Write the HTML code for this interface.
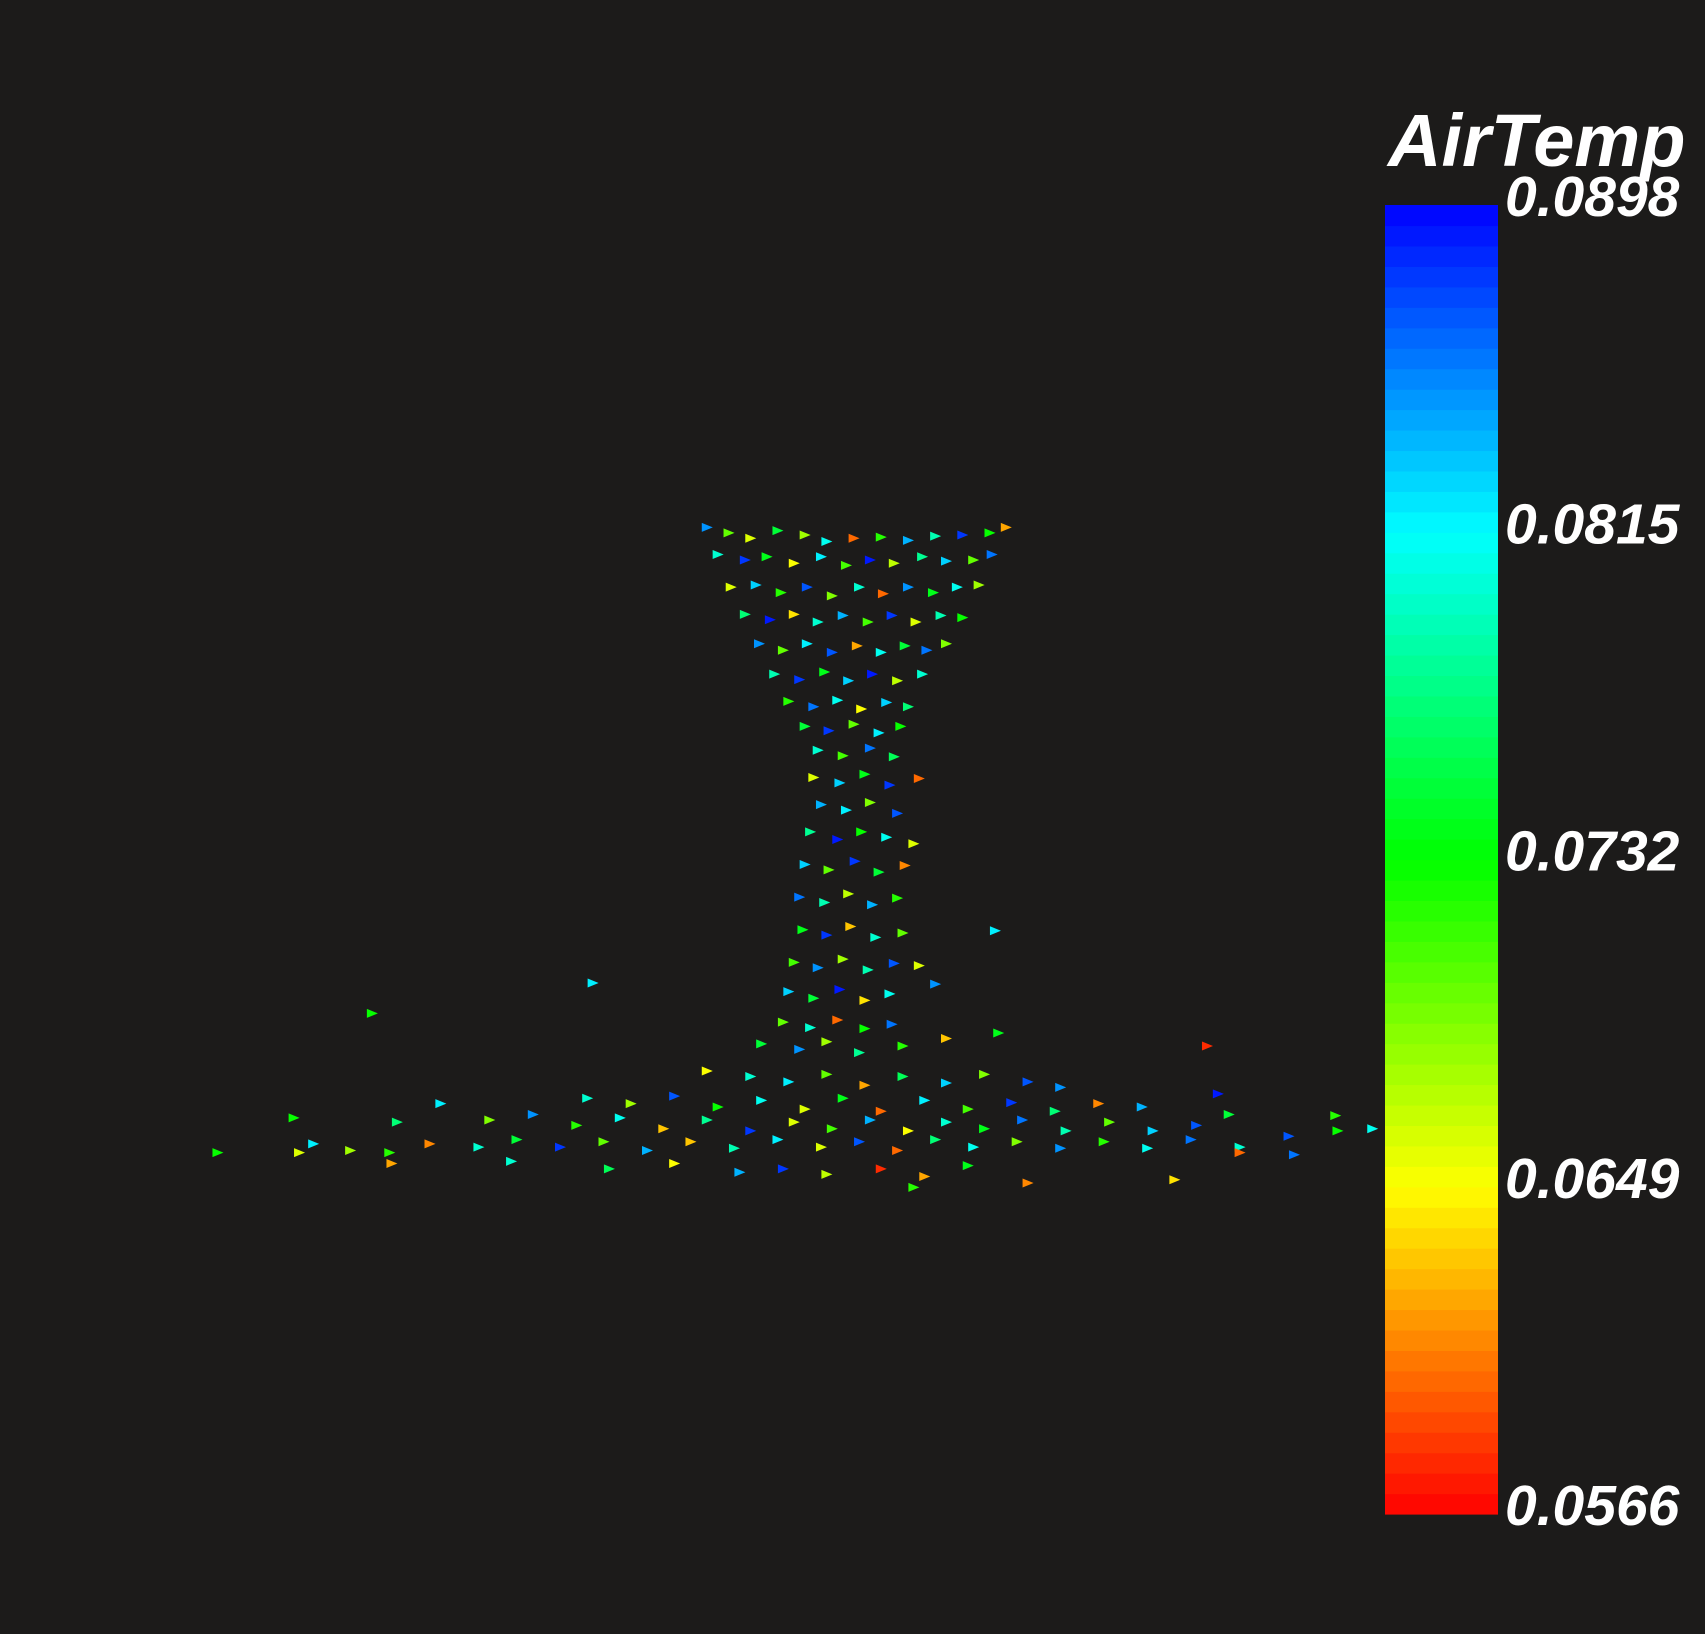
<!DOCTYPE html>
<html>
<head>
<meta charset="utf-8">
<style>
  html, body { margin: 0; padding: 0; background: #1c1b1a; }
  body { width: 1705px; height: 1634px; overflow: hidden; }
  svg { display: block; }
  text { font-family: "Liberation Sans", sans-serif; font-style: italic; font-weight: bold; fill: #ffffff; }
</style>
</head>
<body>
<svg id="chart" width="1705" height="1634" viewBox="0 0 1705 1634" xmlns="http://www.w3.org/2000/svg">
  <rect x="0" y="0" width="1705" height="1634" fill="#1c1b1a"/>
  <g id="particles"></g>
  <g id="colorbar">
    <text x="1388" y="166" font-size="74">AirTemp</text>
  </g>
</svg>
<script>
// Particle data (x, y in reference layout units; value = AirTemp)
const px = [650,670,690,715,740,760,785,810,835,860,885,910,925,
660,685,705,730,755,778,800,822,848,870,895,912,
672,695,718,742,765,790,812,835,858,880,900,
685,708,730,752,775,798,820,842,865,885,
698,720,742,765,788,810,832,852,870,
712,735,758,780,802,825,848,
725,748,770,792,815,835,
740,762,785,808,828,
752,775,800,822,
748,772,795,818,845,
755,778,800,825,
745,770,792,815,840,
740,762,786,808,832,
735,758,780,802,825,
738,760,782,805,830,915,
730,752,775,798,822,845,
725,748,772,795,818,860,545,
720,745,770,795,820,
700,735,760,790,830,870,918,1110,342,
650,690,725,760,795,830,870,905,945,975,
540,580,620,660,700,740,775,810,850,890,930,970,1010,1050,1120,
270,365,405,450,490,530,570,610,650,690,730,765,800,835,870,905,940,980,1020,1060,1100,1130,1228,
200,288,322,358,395,440,475,515,555,595,635,675,715,755,790,825,860,895,935,975,1015,1055,1095,1140,1185,1230,1262,
275,360,470,560,620,680,720,760,810,850,890,945,1080,1140,1190,840];
const py = [485,490,495,488,492,498,495,494,497,493,492,490,485,
510,515,512,518,512,520,515,518,512,516,515,510,
540,538,545,540,548,540,546,540,545,540,538,
565,570,565,572,566,572,566,572,566,568,
592,598,592,600,594,600,594,598,592,
620,625,618,626,620,626,620,
645,650,644,652,646,650,
668,672,666,674,668,
690,695,688,696,
715,720,712,722,716,
740,745,738,748,
765,772,765,770,776,
795,800,792,802,796,
825,830,822,832,826,
855,860,852,862,858,856,
885,890,882,892,886,888,
912,918,910,920,914,905,904,
940,945,938,946,942,
960,965,958,968,962,955,950,962,932,
985,990,995,988,998,990,996,988,995,1000,
1010,1015,1008,1018,1012,1020,1010,1022,1012,1020,1014,1022,1015,1018,1006,
1028,1032,1015,1030,1025,1035,1028,1038,1030,1040,1032,1038,1030,1040,1032,1038,1030,1040,1032,1040,1035,1025,1026,
1060,1052,1058,1060,1052,1055,1048,1055,1050,1058,1050,1056,1048,1055,1050,1058,1048,1055,1050,1056,1050,1056,1048,1055,1045,1040,1038,
1060,1070,1068,1075,1070,1078,1075,1080,1075,1082,1072,1088,1085,1060,1062,1092];
const pv = [.085,.070,.066,.075,.068,.081,.060,.072,.084,.079,.088,.073,.062,
.080,.088,.074,.065,.082,.071,.089,.067,.078,.083,.070,.086,
.066,.083,.072,.087,.069,.080,.060,.085,.074,.081,.068,
.077,.089,.064,.080,.084,.071,.088,.066,.079,.073,
.085,.070,.082,.087,.062,.081,.075,.086,.069,
.079,.088,.074,.083,.089,.067,.080,
.072,.086,.081,.065,.083,.077,
.075,.088,.070,.082,.073,
.080,.071,.086,.076,
.066,.083,.074,.088,.060,
.084,.082,.069,.087,
.078,.089,.073,.081,.066,
.083,.070,.088,.075,.061,
.086,.079,.067,.084,.072,
.074,.088,.063,.080,.070,.082,
.071,.085,.068,.079,.087,.066,
.083,.075,.089,.064,.081,.085,.082,
.070,.080,.060,.073,.086,
.075,.085,.068,.078,.072,.063,.074,.058,.073,
.065,.080,.082,.070,.062,.076,.083,.069,.087,.085,
.080,.068,.087,.073,.081,.066,.074,.060,.082,.071,.088,.077,.061,.084,.089,
.073,.077,.082,.069,.085,.072,.081,.063,.078,.088,.066,.071,.084,.065,.080,.074,.086,.079,.070,.083,.087,.075,.072,
.073,.082,.068,.072,.061,.080,.075,.088,.070,.084,.063,.079,.082,.066,.087,.060,.077,.081,.069,.085,.072,.081,.086,.080,.087,.073,.081,
.066,.062,.080,.076,.065,.084,.088,.067,.058,.062,.074,.061,.064,.060,.086,.072];
const tickLabels = ["0.0898","0.0815","0.0732","0.0649","0.0566"];
const tickValues = [0.0898,0.0815,0.0732,0.0649,0.0566];
const vMin = 0.0566, vMax = 0.0898;

const NS = "http://www.w3.org/2000/svg";
const S = 1705/1568;
function xScale(v){ return v*S; }
function yScale(v){ return v*S; }
function colorOf(v){
  let t = (v - vMin)/(vMax - vMin);
  t = Math.max(0, Math.min(1, t));
  return "hsl(" + (t*240).toFixed(1) + ",100%,50%)";
}
const cbX = 1385, cbW = 113, cbTop = 205, cbBot = 1514;
function cbY(v){ return cbBot - (v - vMin)/(vMax - vMin)*(cbBot - cbTop); }

const pg = document.getElementById("particles");
for (let i = 0; i < px.length; i++) {
  const x = xScale(px[i]), y = yScale(py[i]);
  const p = document.createElementNS(NS, "polygon");
  p.setAttribute("points", (x-5)+","+(y-4.5)+" "+(x+6)+","+y+" "+(x-5)+","+(y+4.5));
  p.setAttribute("fill", colorOf(pv[i]));
  
  
  pg.appendChild(p);
}

const cb = document.getElementById("colorbar");
const steps = 64;
for (let k = 0; k < steps; k++) {
  const v0 = vMin + (vMax - vMin)*k/steps;
  const v1 = vMin + (vMax - vMin)*(k+1)/steps;
  const r = document.createElementNS(NS, "rect");
  r.setAttribute("x", cbX);
  r.setAttribute("y", cbY(v1));
  r.setAttribute("width", cbW);
  r.setAttribute("height", cbY(v0) - cbY(v1) + 0.6);
  r.setAttribute("fill", colorOf((v0+v1)/2));
  
  
  cb.appendChild(r);
}
for (let k = 0; k < tickLabels.length; k++) {
  const t = document.createElementNS(NS, "text");
  t.setAttribute("x", 1505);
  t.setAttribute("y", cbY(tickValues[k]) + 11);
  t.setAttribute("font-size", "57");
  t.textContent = tickLabels[k];
  
  
  cb.appendChild(t);
}
</script>
</body>
</html>
